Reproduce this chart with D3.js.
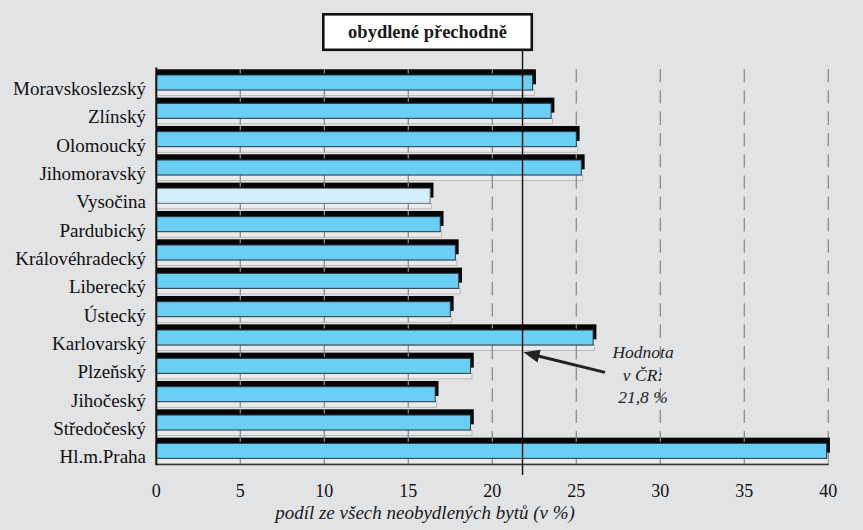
<!DOCTYPE html>
<html><head><meta charset="utf-8">
<script src="https://cdn.jsdelivr.net/npm/d3@7"></script>
<style>body{margin:0;background:#e2e3e5;overflow:hidden}</style>
</head><body><svg id="c" width="863" height="530"></svg>
<script>
const categories = ["Moravskoslezský","Zlínský","Olomoucký","Jihomoravský","Vysočina","Pardubický","Královéhradecký","Liberecký","Ústecký","Karlovarský","Plzeňský","Jihočeský","Středočeský","Hl.m.Praha"];
const values = [22.4,23.5,25.0,25.3,16.3,16.9,17.8,18.0,17.5,26.0,18.7,16.6,18.7,39.9];
const highlighted = ["Vysočina"];
const xTicks = [0,5,10,15,20,25,30,35,40];
const nationalValue = 21.8;
const chartTitle = "obydlené přechodně";
const xAxisTitle = "podíl ze všech neobydlených bytů (v %)";
const annotationLines = ["Hodnota","v ČR:","21,8 %"];

const data = categories.map((c,i)=>({c, v: values[i]}));
const svg = d3.select("#c");
const serif = "'Liberation Serif','Times New Roman',serif";
svg.append("rect").attr("width",863).attr("height",530).attr("fill","#e2e3e5");

const x = d3.scaleLinear().domain([0,40]).range([156.3,828.3]);
const y = d3.scaleBand().domain(categories).range([67.5,464.2]).padding(0);
const plotTop = 69, plotBottom = 464.5;

// dashed grid
svg.append("g").selectAll("line").data(xTicks.filter(t=>t>0)).join("line")
  .attr("x1",d=>x(d)).attr("x2",d=>x(d)).attr("y1",plotTop).attr("y2",plotBottom)
  .attr("stroke","#8c8c8c").attr("stroke-width",1.3).attr("stroke-dasharray","13.3,8");

const rows = svg.append("g").selectAll("g").data(data).join("g");
const blueTop = d => y(d.c)+7.5;
const barH = 15;

// light strip under each bar
rows.append("rect")
  .attr("x",x(0)).attr("y",d=>blueTop(d)+barH)
  .attr("width",d=>x(d.v)-x(0)+1.5).attr("height",y.bandwidth()-7.5-barH-0.3)
  .attr("fill","#eaeaeb").attr("stroke","#a8a8a8").attr("stroke-width",0.7);
// black shadow bar
rows.append("rect")
  .attr("x",x(0)).attr("y",d=>blueTop(d)-5.7)
  .attr("width",d=>x(d.v)-x(0)+3.3).attr("height",barH)
  .attr("fill","#050505");
// grid segments over strip and shadow
rows.each(function(d){
  const g = d3.select(this);
  const ts = xTicks.filter(t=>t>0 && t<d.v);
  g.selectAll("line.s").data(ts).join("line").attr("class","s")
    .attr("x1",t=>x(t)).attr("x2",t=>x(t))
    .attr("y1",blueTop(d)+barH).attr("y2",y(d.c)+y.bandwidth())
    .attr("stroke","#8c8c8c").attr("stroke-width",1.3);
  g.selectAll("line.k").data(ts).join("line").attr("class","k")
    .attr("x1",t=>x(t)).attr("x2",t=>x(t))
    .attr("y1",blueTop(d)-5.7).attr("y2",blueTop(d)-1.5)
    .attr("stroke","#8c8c8c").attr("stroke-width",1.3);
});
// main bar
rows.append("rect")
  .attr("x",x(0)).attr("y",d=>blueTop(d))
  .attr("width",d=>x(d.v)-x(0)).attr("height",barH)
  .attr("fill",d=>highlighted.includes(d.c)?"#d3eefa":"#69cff5")
  .attr("stroke",d=>highlighted.includes(d.c)?"#6f7478":"#2a3a44").attr("stroke-width",1);

// axes lines
svg.append("line").attr("x1",x(0)).attr("x2",x(40)+0.5).attr("y1",plotBottom).attr("y2",plotBottom)
  .attr("stroke","#333").attr("stroke-width",1.6);
svg.append("line").attr("x1",x(0)).attr("x2",x(0)).attr("y1",67.5).attr("y2",plotBottom+0.8)
  .attr("stroke","#111").attr("stroke-width",2);

// national value line
svg.append("line").attr("x1",x(nationalValue)).attr("x2",x(nationalValue)).attr("y1",51).attr("y2",475)
  .attr("stroke","#111").attr("stroke-width",1.4);

// category labels
svg.append("g").selectAll("text").data(categories).join("text")
  .attr("x",146).attr("y",d=>y(d)+27.5).attr("text-anchor","end")
  .attr("font-family",serif).attr("font-size",19).attr("fill","#111").text(d=>d);

// tick labels
svg.append("g").selectAll("text").data(xTicks).join("text")
  .attr("x",d=>x(d)).attr("y",497).attr("text-anchor","middle")
  .attr("font-family",serif).attr("font-size",18).attr("fill","#111").text(d=>d);

// axis title
svg.append("text").attr("x",425).attr("y",519).attr("text-anchor","middle")
  .attr("font-family",serif).attr("font-style","italic").attr("font-size",19).attr("fill","#1a1a1a").text(xAxisTitle);

// arrow
const tip = [x(nationalValue)+1, y("Plzeňský")+1.5];
const tail = [605, y("Plzeňský")+21.5];
const dx = tip[0]-tail[0], dy = tip[1]-tail[1], L = Math.hypot(dx,dy);
const u = [dx/L, dy/L], n = [-u[1], u[0]];
const hl = 16, hw = 6.5;
const base = [tip[0]-u[0]*hl, tip[1]-u[1]*hl];
svg.append("line").attr("x1",tail[0]).attr("y1",tail[1]).attr("x2",base[0]+u[0]*2).attr("y2",base[1]+u[1]*2)
  .attr("stroke","#222").attr("stroke-width",3);
svg.append("path").attr("d",`M${tip[0]},${tip[1]}L${base[0]+n[0]*hw},${base[1]+n[1]*hw}L${base[0]-n[0]*hw},${base[1]-n[1]*hw}Z`)
  .attr("fill","#222");

// annotation
svg.append("g").selectAll("text").data(annotationLines).join("text")
  .attr("x",643).attr("y",(d,i)=>357.7+i*22.8).attr("text-anchor","middle")
  .attr("font-family",serif).attr("font-style","italic").attr("font-size",17.5).attr("fill","#222").text(d=>d);

// title box
svg.append("rect").attr("x",323.3).attr("y",14.3).attr("width",208.5).attr("height",35.5)
  .attr("fill","#fff").attr("stroke","#111").attr("stroke-width",2.6);
svg.append("text").attr("x",427.5).attr("y",38).attr("text-anchor","middle")
  .attr("font-family",serif).attr("font-weight","bold").attr("font-size",18.5).attr("fill","#1a1a1a").text(chartTitle);
</script></body></html>
